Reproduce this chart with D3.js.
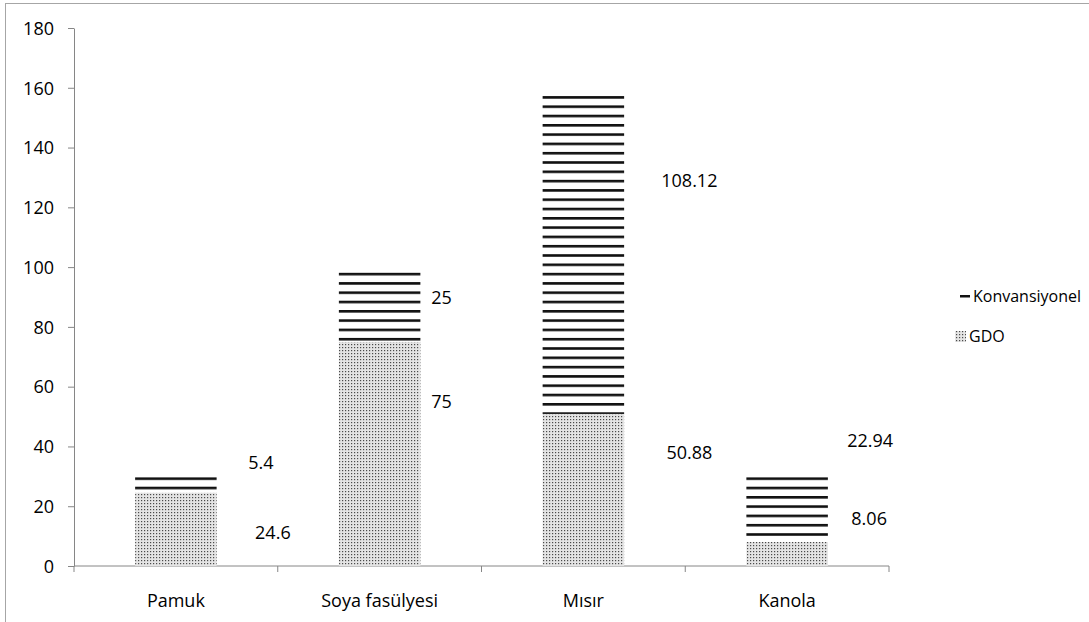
<!DOCTYPE html>
<html>
<head>
<meta charset="utf-8">
<script src="https://cdn.jsdelivr.net/npm/d3@7"></script>
<style>
  body { margin: 0; background: #fff; }
  svg { display: block; font-family: "Open Sans", "Noto Sans", sans-serif; }
  .axis text { font-size: 18px; fill: #000; font-family: "Open Sans", sans-serif; }
  .axis path, .axis line { stroke: #868686; }
  .val { font-size: 18px; fill: #000; }
  .leg { font-size: 16px; fill: #000; }
</style>
</head>
<body>
<svg id="chart"></svg>
<script>
// data
const categories = ['Pamuk', 'Soya fasülyesi', 'Mısır', 'Kanola'];
const gdo = [24.6, 75, 50.88, 8.06];
const konvansiyonel = [5.4, 25, 108.12, 22.94];
const yTicks = [0, 20, 40, 60, 80, 100, 120, 140, 160, 180];

// hand-placed data labels in the original: [dx from category centre, y value]
const gdoLabelPos = [[97, 11], [62, 55], [106, 38], [82, 15.7]];
const konvLabelPos = [[85, 34.4], [62, 89.6], [106, 129], [83, 41.8]];

const W = 1089, H = 622;
const mg = { top: 28, left: 74 };
const plotW = 889 - mg.left;
const plotH = 566 - mg.top;

const svg = d3.select('#chart').attr('width', W).attr('height', H);

// outer frame of the chart area
svg.append('rect').attr('x', 5.5).attr('y', 3.5).attr('width', W + 10).attr('height', H + 10)
  .attr('fill', 'none').attr('stroke', '#a6a6a6');

const defs = svg.append('defs');
const dots = defs.append('pattern').attr('id', 'dots').attr('patternUnits', 'userSpaceOnUse')
  .attr('width', 3).attr('height', 3);
dots.append('rect').attr('width', 3).attr('height', 3).attr('fill', '#e4e4e4');
dots.append('rect').attr('x', 1).attr('y', 1).attr('width', 1.2).attr('height', 1.2).attr('fill', '#4a4a4a');

const stripes = defs.append('pattern').attr('id', 'stripes').attr('patternUnits', 'userSpaceOnUse')
  .attr('width', 10).attr('height', 9.3).attr('y', 3);
stripes.append('rect').attr('width', 10).attr('height', 9.3).attr('fill', '#fff');
stripes.append('rect').attr('y', 0).attr('width', 10).attr('height', 2.6).attr('fill', '#111');

const g = svg.append('g').attr('transform', `translate(${mg.left},${mg.top})`);

const x = d3.scaleBand().domain(categories).range([0, plotW]).paddingInner(0.6).paddingOuter(0.3);
const y = d3.scaleLinear().domain([0, 180]).range([plotH, 0]);

// y axis
g.append('g').attr('class', 'axis')
  .call(d3.axisLeft(y).tickValues(yTicks).tickSize(6).tickSizeOuter(0).tickPadding(14))
  .call(a => a.selectAll('text').attr('dy', '0.35em'));

// x axis with ticks between categories
const xAxis = g.append('g').attr('class', 'axis').attr('transform', `translate(0,${plotH})`);
xAxis.append('line').attr('x1', 0).attr('x2', plotW).attr('stroke', '#868686');
const step = plotW / categories.length;
d3.range(categories.length + 1).forEach(i => {
  xAxis.append('line').attr('x1', i * step).attr('x2', i * step).attr('y1', 0).attr('y2', 6)
    .attr('stroke', '#868686');
});
categories.forEach(c => {
  xAxis.append('text').attr('x', x(c) + x.bandwidth() / 2).attr('y', 41)
    .attr('text-anchor', 'middle').text(c);
});

// bars
categories.forEach((c, i) => {
  const bx = x(c), bw = x.bandwidth();
  g.append('rect').attr('x', bx).attr('y', y(gdo[i])).attr('width', bw)
    .attr('height', y(0) - y(gdo[i])).attr('fill', 'url(#dots)');
  const top = gdo[i] + konvansiyonel[i];
  g.append('rect').attr('x', bx).attr('y', y(top)).attr('width', bw)
    .attr('height', y(gdo[i]) - y(top)).attr('fill', 'url(#stripes)');
});

// value labels
const cx = c => x(c) + x.bandwidth() / 2;
categories.forEach((c, i) => {
  g.append('text').attr('class', 'val').attr('text-anchor', 'middle')
    .attr('x', cx(c) + gdoLabelPos[i][0]).attr('y', y(gdoLabelPos[i][1])).attr('dy', '0.35em')
    .text(gdo[i]);
  g.append('text').attr('class', 'val').attr('text-anchor', 'middle')
    .attr('x', cx(c) + konvLabelPos[i][0]).attr('y', y(konvLabelPos[i][1])).attr('dy', '0.35em')
    .text(konvansiyonel[i]);
});

// legend
const leg = svg.append('g').attr('transform', 'translate(955,0)');
leg.append('rect').attr('x', 5).attr('y', 295).attr('width', 10).attr('height', 2.5).attr('fill', '#111');
leg.append('text').attr('class', 'leg').attr('x', 18).attr('y', 296).attr('dy', '0.35em').text('Konvansiyonel');
leg.append('rect').attr('x', 0).attr('y', 331).attr('width', 11).attr('height', 11).attr('fill', 'url(#dots)');
leg.append('text').attr('class', 'leg').attr('x', 14).attr('y', 336).attr('dy', '0.35em').text('GDO');
</script>
</body>
</html>
